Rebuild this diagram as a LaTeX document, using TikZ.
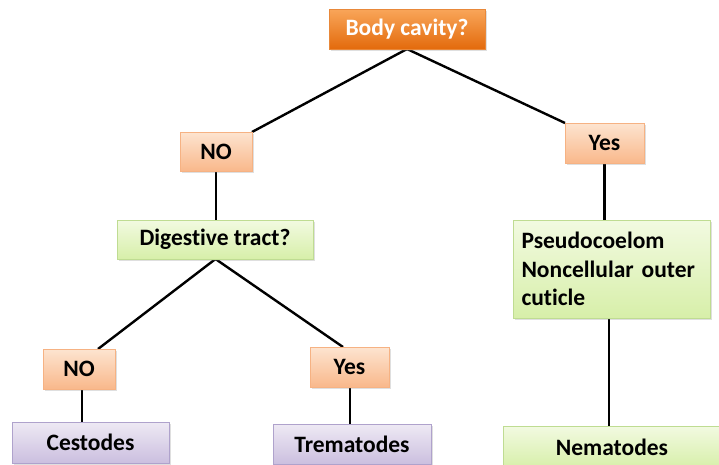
\documentclass[tikz,border=0pt]{standalone}
\usepackage{fontspec}
\setmainfont{Carlito}[Ligatures={NoCommon}]
\usetikzlibrary{shadows,calc}
\definecolor{orgtop}{HTML}{F9A65A}
\definecolor{orgbot}{HTML}{E36A0C}
\definecolor{orgdraw}{HTML}{E8883A}
\definecolor{peachtop}{HTML}{FDE4D0}
\definecolor{peachbot}{HTML}{F9B88B}
\definecolor{peachdraw}{HTML}{F6B283}
\definecolor{greentop}{HTML}{F2FAE1}
\definecolor{greenbot}{HTML}{D7EFA9}
\definecolor{greendraw}{HTML}{BFDC92}
\definecolor{purptop}{HTML}{EEE9F4}
\definecolor{purpbot}{HTML}{CBBFDF}
\definecolor{purpdraw}{HTML}{AFA2CC}
\tikzset{
  base/.style={rectangle, inner sep=0pt, font=\fontsize{23.5}{28.5}\selectfont\bfseries,
    drop shadow={opacity=0.25, shadow xshift=1.5pt, shadow yshift=-1.5pt}},
  topbox/.style={base, draw=orgdraw, line width=0.8pt, top color=orgtop, bottom color=orgbot, text=white},
  peachbox/.style={base, draw=peachdraw, line width=0.8pt, top color=peachtop, bottom color=peachbot, text=black},
  greenbox/.style={base, draw=greendraw, line width=0.8pt, top color=greentop, bottom color=greenbot, text=black},
  purpbox/.style={base, draw=purpdraw, line width=0.8pt, top color=purptop, bottom color=purpbot, text=black},
  link/.style={draw=black, line width=2.4pt}
}
\begin{document}
\begin{tikzpicture}[x=1pt, y=-1pt]
\useasboundingbox (0,0) rectangle (719,464);
\clip (0,0) rectangle (719,464);
% connectors (behind boxes)
\coordinate (bodyS) at (407,49);
\coordinate (digS) at (215.5,259);
\coordinate (no2T) at (98,349);
\coordinate (yes2T) at (343,347);
\draw[link] (bodyS) -- (252,132) coordinate (no1NE);
\draw[link] (bodyS) -- (565,123) coordinate (yes1NW);
\draw[link] (216,171) -- (216,220);
\draw[link] (digS) -- (no2T);
\draw[link] (digS) -- (yes2T);
\draw[link] (604.5,163) -- (604.5,220);
\draw[link] (82,389) -- (82,422);
\draw[link] (350,387) -- (350,424);
\draw[link] (609,318) -- (609,426);
% boxes
\node[topbox, minimum width=156pt, minimum height=40pt] (body) at (407,29) {Body cavity?};
\node[peachbox, minimum width=72pt, minimum height=39pt] (no1) at (216,151.5) {NO};
\node[peachbox, minimum width=79pt, minimum height=40pt] (yes1) at (604.5,143) {Yes};
\node[greenbox, minimum width=196pt, minimum height=39pt] (dig) at (215,239.5) {Digestive tract?};
\node[greenbox, minimum width=197pt, minimum height=98pt, text width=180pt, align=left, inner xsep=8.5pt] (pseudo) at (611.5,269) {Pseudocoelom\\Noncellular outer\\cuticle};
\node[peachbox, minimum width=72pt, minimum height=40pt] (no2) at (79,369) {NO};
\node[peachbox, minimum width=79pt, minimum height=40pt] (yes2) at (349.5,367) {Yes};
\node[purpbox, minimum width=157pt, minimum height=41pt] (cest) at (90.5,442.5) {Cestodes};
\node[purpbox, minimum width=158pt, minimum height=40pt] (trem) at (352,444) {Trematodes};
\node[greenbox, minimum width=218pt, minimum height=42pt] (nema) at (612,447) {Nematodes};
\end{tikzpicture}
\end{document}
